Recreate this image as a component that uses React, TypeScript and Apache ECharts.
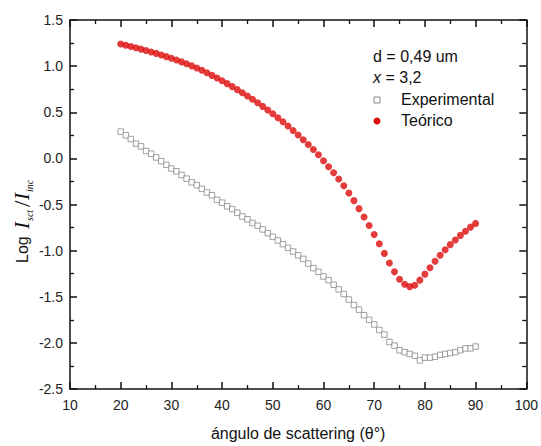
import React, { useEffect, useRef } from "react";
import * as echarts from "echarts";

const angles: number[] = [
  20, 21, 22, 23, 24, 25, 26, 27, 28, 29, 30, 31, 32, 33, 34, 35, 36, 37, 38, 39,
  40, 41, 42, 43, 44, 45, 46, 47, 48, 49, 50, 51, 52, 53, 54, 55, 56, 57, 58, 59,
  60, 61, 62, 63, 64, 65, 66, 67, 68, 69, 70, 71, 72, 73, 74, 75, 76, 77, 78, 79,
  80, 81, 82, 83, 84, 85, 86, 87, 88, 89, 90,
];

const experimental: number[] = [
  0.29, 0.25, 0.21, 0.16, 0.13, 0.08, 0.05, 0.01, -0.03, -0.07,
  -0.11, -0.14, -0.18, -0.22, -0.26, -0.29, -0.33, -0.37, -0.4, -0.45,
  -0.48, -0.52, -0.55, -0.59, -0.63, -0.66, -0.7, -0.73, -0.77, -0.81,
  -0.85, -0.89, -0.93, -0.97, -1.01, -1.05, -1.09, -1.14, -1.19, -1.23,
  -1.28, -1.32, -1.37, -1.42, -1.47, -1.53, -1.59, -1.64, -1.7, -1.75,
  -1.8, -1.86, -1.91, -1.99, -2.03, -2.08, -2.1, -2.12, -2.14, -2.19,
  -2.16, -2.16, -2.15, -2.13, -2.12, -2.11, -2.1, -2.08, -2.06, -2.06,
  -2.04,
];

const teorico: number[] = [
  1.24, 1.227, 1.213, 1.199, 1.184, 1.169, 1.154, 1.138, 1.121, 1.103,
  1.085, 1.066, 1.046, 1.025, 1.003, 0.98, 0.955, 0.928, 0.9, 0.871,
  0.841, 0.81, 0.778, 0.745, 0.711, 0.676, 0.64, 0.603, 0.564, 0.524,
  0.483, 0.44, 0.396, 0.35, 0.302, 0.253, 0.202, 0.15, 0.096, 0.04,
  -0.025, -0.09, -0.155, -0.224, -0.297, -0.375, -0.458, -0.545, -0.635, -0.728,
  -0.825, -0.925, -1.03, -1.135, -1.23, -1.31, -1.365, -1.39, -1.375, -1.32,
  -1.255, -1.185, -1.115, -1.05, -0.99, -0.935, -0.885, -0.835, -0.79, -0.745,
  -0.705,
];

const xTitle = "ángulo de scattering (θ°)";
const legendLines = ["d = 0,49 um", "x = 3,2"];
const seriesNames = ["Experimental", "Teórico"];

const FONT = "'Liberation Sans', Arial, sans-serif";
const SERIF = "'Liberation Serif', 'Times New Roman', serif";
const RED = "#dd0a0a";
const GREY = "#8a8a8a";

export default function App() {
  const ref = useRef<HTMLDivElement>(null);

  useEffect(() => {
    if (!ref.current) return;
    const chart = echarts.init(ref.current, undefined, { renderer: "svg" });

    const axisCommon = {
      axisLine: { show: true, onZero: false, lineStyle: { color: "#111", width: 1.5 } },
      axisTick: { show: true, inside: true, length: 7, lineStyle: { color: "#111", width: 1.5 } },
      minorTick: { show: true, splitNumber: 2, length: 4, lineStyle: { color: "#111", width: 1.3 } },
      splitLine: { show: false },
    };

    const expData = angles.map((a, i) => [a, experimental[i]]);
    const teoData = angles.map((a, i) => [a, teorico[i]]);

    chart.setOption({
      animation: false,
      backgroundColor: "#fff",
      grid: { left: 70, right: 11, top: 20, bottom: 53 },
      xAxis: [
        {
          type: "value",
          min: 10,
          max: 100,
          interval: 10,
          position: "bottom",
          ...axisCommon,
          axisLabel: { margin: 9, fontSize: 14, color: "#222", fontFamily: FONT },
          name: xTitle,
          nameLocation: "middle",
          nameGap: 36,
          nameTextStyle: { fontSize: 16, color: "#111", fontFamily: FONT },
        },
        {
          type: "value",
          min: 10,
          max: 100,
          interval: 10,
          position: "top",
          ...axisCommon,
          axisLabel: { show: false },
        },
      ],
      yAxis: [
        {
          type: "value",
          min: -2.5,
          max: 1.5,
          interval: 0.5,
          position: "left",
          ...axisCommon,
          axisLabel: {
            margin: 7,
            fontSize: 14,
            color: "#222",
            fontFamily: FONT,
            formatter: (v: number) => v.toFixed(1),
          },
        },
        {
          type: "value",
          min: -2.5,
          max: 1.5,
          interval: 0.5,
          position: "right",
          ...axisCommon,
          axisLabel: { show: false },
        },
      ],
      series: [
        {
          name: seriesNames[0],
          type: "scatter",
          data: expData,
          symbol: "rect",
          symbolSize: 5.5,
          itemStyle: { color: "#fff", borderColor: GREY, borderWidth: 1 },
          z: 2,
        },
        {
          name: seriesNames[1],
          type: "scatter",
          data: teoData,
          symbol: "circle",
          symbolSize: 7,
          itemStyle: { color: RED },
          z: 3,
        },
      ],
      graphic: [
        {
          type: "group",
          x: 22,
          y: 263,
          rotation: Math.PI / 2,
          children: [
            { type: "text", x: 0, y: 0, style: { text: "Log", fontSize: 16, fontFamily: FONT, fill: "#111", verticalAlign: "middle", align: "left" } },
            { type: "text", x: 34, y: 0, style: { text: "I", fontSize: 21, fontStyle: "italic", fontFamily: SERIF, fill: "#111", verticalAlign: "middle", align: "left" } },
            { type: "text", x: 42, y: 7, style: { text: "sct", fontSize: 10, fontStyle: "italic", fontFamily: SERIF, fill: "#111", verticalAlign: "middle", align: "left" } },
            { type: "text", x: 56, y: 0, style: { text: "/", fontSize: 23, fontFamily: SERIF, fill: "#111", verticalAlign: "middle", align: "left" } },
            { type: "text", x: 63, y: 0, style: { text: "I", fontSize: 21, fontStyle: "italic", fontFamily: SERIF, fill: "#111", verticalAlign: "middle", align: "left" } },
            { type: "text", x: 71, y: 7, style: { text: "inc", fontSize: 10, fontStyle: "italic", fontFamily: SERIF, fill: "#111", verticalAlign: "middle", align: "left" } },
          ],
        },
        {
          type: "text",
          left: 373,
          top: 48,
          style: { text: legendLines[0], fontSize: 16, fontFamily: FONT, fill: "#111" },
        },
        {
          type: "text",
          left: 373,
          top: 69,
          style: {
            text: "{i|x}" + legendLines[1].slice(1),
            fontSize: 16,
            fontFamily: FONT,
            fill: "#111",
            rich: { i: { fontStyle: "italic", fontSize: 16, fontFamily: FONT, fill: "#111" } },
          },
        },
        {
          type: "rect",
          shape: { x: 374, y: 97, width: 6, height: 6 },
          style: { fill: "#fff", stroke: GREY, lineWidth: 1 },
        },
        {
          type: "text",
          left: 401,
          top: 91,
          style: { text: seriesNames[0], fontSize: 16, fontFamily: FONT, fill: "#111" },
        },
        {
          type: "circle",
          shape: { cx: 377, cy: 121, r: 3.5 },
          style: { fill: RED },
        },
        {
          type: "text",
          left: 401,
          top: 112,
          style: { text: seriesNames[1], fontSize: 16, fontFamily: FONT, fill: "#111" },
        },
      ],
    });

    return () => chart.dispose();
  }, []);

  return (
    <div
      ref={ref}
      style={{ position: "fixed", left: 0, top: 0, width: 541, height: 446, background: "#fff" }}
    />
  );
}
